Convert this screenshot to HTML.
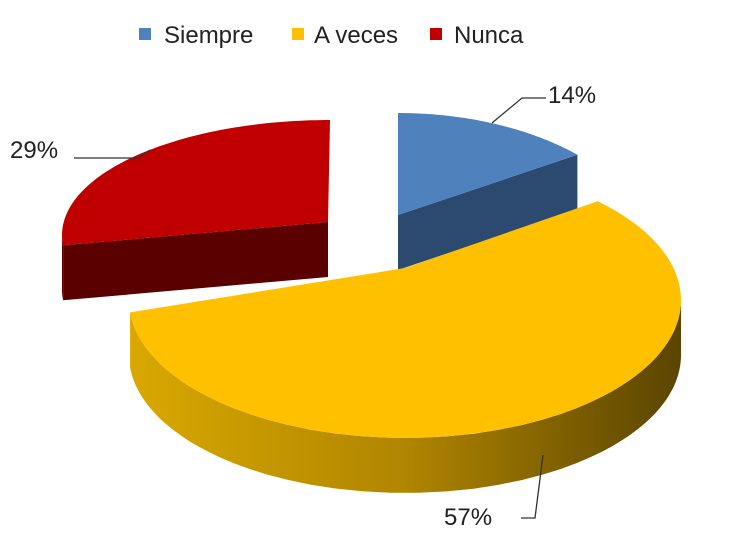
<!DOCTYPE html>
<html><head><meta charset="utf-8"><style>
html,body{margin:0;padding:0;background:#fff;}
svg{display:block;font-family:"Liberation Sans",sans-serif;}
</style></head><body>
<svg id="chart" width="731" height="538" viewBox="0 0 731 538">
<defs>
<linearGradient id="ySide" x1="0" x2="1" y1="0" y2="0">
<stop offset="0" stop-color="#d9a800"/><stop offset="0.5" stop-color="#b08500"/><stop offset="1" stop-color="#5a4400"/>
</linearGradient>
</defs>
<g id="legend">
<rect x="139" y="28" width="12" height="12" fill="#4f81bd"/>
<text x="164" y="43" font-size="24" fill="#222">Siempre</text>
<rect x="292" y="28" width="12" height="12" fill="#ffc000"/>
<text x="314" y="43" font-size="24" fill="#222">A veces</text>
<rect x="430" y="28" width="12" height="12" fill="#c00000"/>
<text x="454" y="43" font-size="24" fill="#222">Nunca</text>
</g>
<g id="slices"></g>
<g id="labels"></g>
</svg>
<script>
const categories = ["Siempre", "A veces", "Nunca"];
const values = [14, 57, 29];
const valueLabels = ["14%", "57%", "29%"];

// layout (not data): per-slice projected ellipse geometry
const geo = [
  {cx:398, cy:260, rx:257, ry:147, ax:398, ay:215, top:"#4f81bd", side:"#2c4a70"},
  {cx:405, cy:300, rx:276, ry:138, ax:405, ay:268, top:"#ffc000", side:"url(#ySide)"},
  {cx:330, cy:235, rx:268, ry:115, ax:328, ay:222, top:"#c00000", side:"#5a0000"}
];
const depth = 55;
const kUp = 1.24, kDown = 0.35; // perspective angle warp
const order = [2, 0, 1];
const NS = "http://www.w3.org/2000/svg";
const total = values.reduce((a,b)=>a+b,0);
const slicesG = document.getElementById("slices");
const labelsG = document.getElementById("labels");

function warp(a){ const r=a*Math.PI/180; const s=Math.sin(r), c=Math.cos(r); const k = s>0?kUp:kDown; return Math.atan2(s*k, c); }
function rim(g, a, dy){ const r=warp(a); return [g.cx+g.rx*Math.cos(r), g.cy-g.ry*Math.sin(r)+(dy||0)]; }
function arcPts(g, from, to, dy){ const pts=[]; const n=80; for(let i=0;i<=n;i++){ pts.push(rim(g, from+(to-from)*i/n, dy)); } return pts; }
function P(p){ return p[0].toFixed(1)+","+p[1].toFixed(1); }

const angles = [];
let start = 90;
values.forEach((v,i)=>{ const sweep=v/total*360; angles.push([start, start-sweep]); start -= sweep; });

order.forEach(i=>{
  const g = geo[i]; const [s,e] = angles[i];
  const grp = document.createElementNS(NS,"g");
  
  
  const lo = Math.max(e,-180), hi = Math.min(s,0);
  if (lo < hi) {
    const top = arcPts(g, lo, hi, 0), bot = arcPts(g, hi, lo, depth);
    const side = document.createElementNS(NS,"path");
    side.setAttribute("d","M"+top.map(P).join(" L")+" L"+bot.map(P).join(" L")+" Z");
    side.setAttribute("fill", g.side);
    
    
    grp.appendChild(side);
  }
  [[e, e-90],[s, s+90]].forEach(([a,n])=>{
    if (Math.sin(n*Math.PI/180) < -0.01) {
      const r = rim(g,a,0), r2 = rim(g,a,depth);
      const f = document.createElementNS(NS,"path");
      f.setAttribute("d","M"+g.ax+","+g.ay+" L"+P(r)+" L"+P(r2)+" L"+g.ax+","+(g.ay+depth)+" Z");
      f.setAttribute("fill", i===1 ? "#8a6a00" : g.side);
      
      
      grp.appendChild(f);
    }
  });
  const topPts = arcPts(g, s, e, 0);
  const t = document.createElementNS(NS,"path");
  t.setAttribute("d","M"+g.ax+","+g.ay+" L"+topPts.map(P).join(" L")+" Z");
  t.setAttribute("fill", g.top);
  
  
  grp.appendChild(t);
  slicesG.appendChild(grp);
});

const labelPos = [
  {tx:548, ty:103, line:"M492,123 L522,98 L546,98"},
  {tx:444, ty:525, line:"M543,455 L535,518 L521,518"},
  {tx:10, ty:158, line:"M74,158 L138,158 L150,150"}
];
values.forEach((v,i)=>{
  const lp = labelPos[i];
  const l = document.createElementNS(NS,"path");
  l.setAttribute("d", lp.line); l.setAttribute("fill","none"); l.setAttribute("stroke","#333"); l.setAttribute("stroke-width","1.3");
  
  
  labelsG.appendChild(l);
  const tx = document.createElementNS(NS,"text");
  tx.setAttribute("x", lp.tx); tx.setAttribute("y", lp.ty); tx.setAttribute("font-size","24"); tx.setAttribute("fill","#222");
  tx.textContent = valueLabels[i];
  
  
  labelsG.appendChild(tx);
});
</script>
</body></html>
